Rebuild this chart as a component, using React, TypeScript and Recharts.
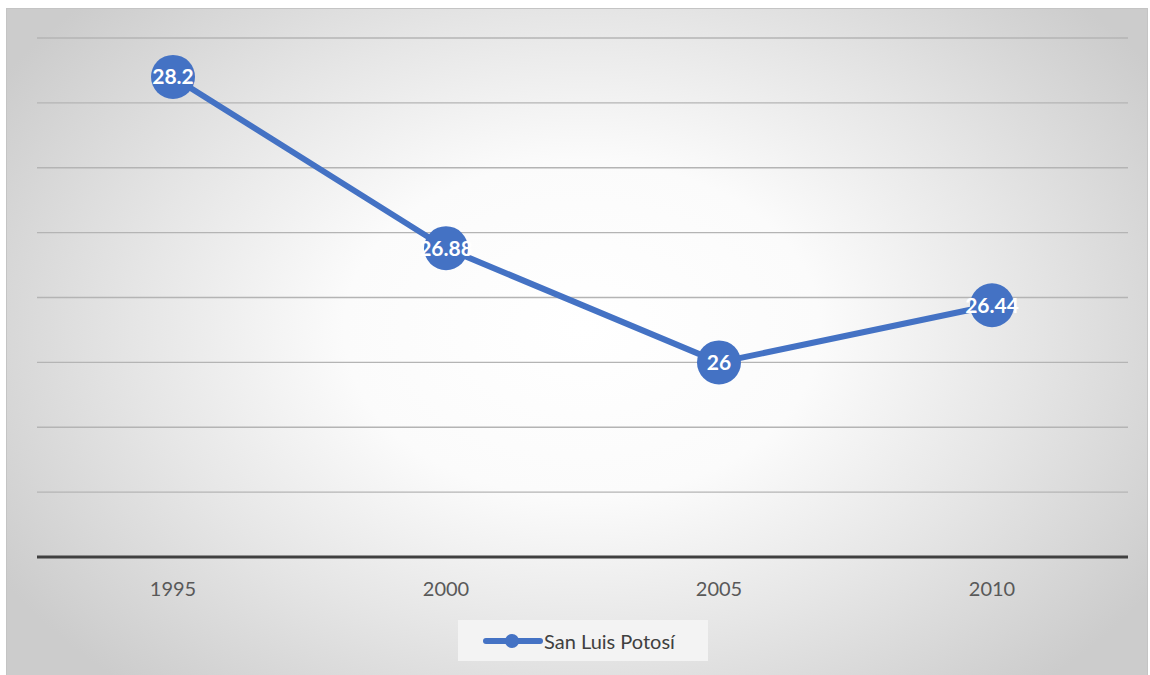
import React from "react";
import {
  LineChart,
  Line,
  XAxis,
  YAxis,
  CartesianGrid,
  LabelList,
} from "recharts";

// Years on the category axis
const years = ["1995", "2000", "2005", "2010"];

// Values for San Luis Potosí
const sanLuisValues = [28.2, 26.88, 26, 26.44];

// Hidden value axis ticks (gridlines every 0.5)
const yTicks = [24.5, 25, 25.5, 26, 26.5, 27, 27.5, 28, 28.5];

const seriesName = "San Luis Potosí";
const blue = "#4472C4";
const font = "Lato, 'Open Sans', sans-serif";

const data = years.map((year, i) => ({ year, value: sanLuisValues[i] }));

// Big round marker like the spreadsheet chart
const BigDot = (props: any) => {
  const { cx, cy } = props;
  if (cx == null || cy == null) return null;
  return <circle cx={cx} cy={cy} r={22} fill={blue} />;
};

const App: React.FC = () => {
  return (
    <div
      style={{
        position: "absolute",
        left: 0,
        top: 0,
        width: 1150,
        height: 675,
        overflow: "hidden",
        fontFamily: font,
      }}
    >
      {/* chart frame with radial gradient */}
      <div
        style={{
          position: "absolute",
          left: 6,
          top: 8,
          width: 1142,
          height: 680,
          border: "1px solid #c4c4c4",
          boxSizing: "border-box",
          background:
            "radial-gradient(ellipse 680px 480px at 575px 320px, #ffffff 0%, #fbfbfb 35%, #e6e6e6 65%, #cccccc 100%)",
        }}
      />
      <div style={{ position: "absolute", left: 0, top: 0 }}>
        <LineChart
          width={1150}
          height={675}
          data={data}
          margin={{ top: 38, right: 22, left: 37, bottom: 78 }}
        >
          <CartesianGrid
            vertical={false}
            stroke="#b4b4b4"
            strokeWidth={1.3}
          />
          <XAxis
            dataKey="year"
            height={40}
            padding={{ left: 136, right: 136 }}
            stroke="#404040"
            strokeWidth={3}
            tickLine={false}
            tickMargin={19}
            tick={{ fill: "#595959", fontSize: 20, fontFamily: font }}
          />
          <YAxis
            hide
            domain={[24.5, 28.5]}
            ticks={yTicks}
            allowDataOverflow
          />
          <Line
            dataKey="value"
            name={seriesName}
            stroke={blue}
            strokeWidth={6}
            dot={<BigDot />}
            activeDot={false}
            isAnimationActive={false}
          >
            <LabelList
              dataKey="value"
              position="center"
              fill="#ffffff"
              fontSize={21}
              fontWeight="bold"
              fontFamily={font}
            />
          </Line>
        </LineChart>
      </div>
      {/* legend */}
      <div
        style={{
          position: "absolute",
          left: 458,
          top: 620,
          width: 250,
          height: 41,
          background: "#f3f3f3",
          display: "flex",
          alignItems: "center",
        }}
      >
        <svg width={60} height={20} style={{ marginLeft: 25 }}>
          <line
            x1={3}
            y1={10}
            x2={57}
            y2={10}
            stroke={blue}
            strokeWidth={6}
            strokeLinecap="round"
          />
          <circle cx={29} cy={10} r={7} fill={blue} />
        </svg>
        <span style={{ color: "#404040", fontSize: 20, marginLeft: 1 }}>
          {seriesName}
        </span>
      </div>
    </div>
  );
};

export default App;
